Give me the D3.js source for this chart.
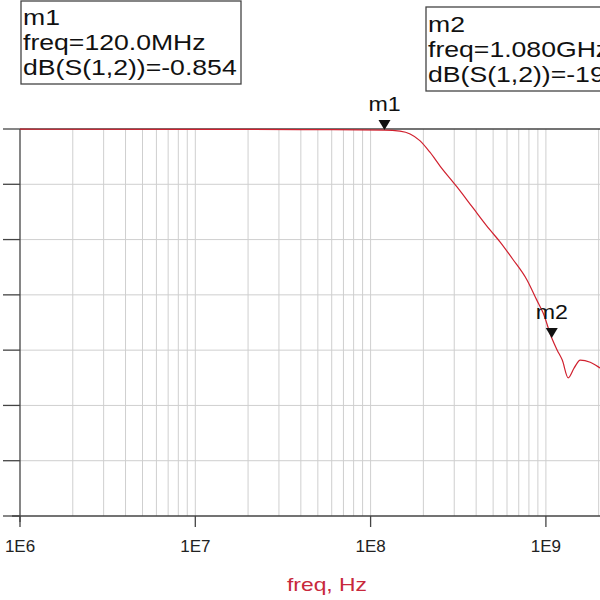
<!DOCTYPE html>
<html>
<head>
<meta charset="utf-8">
<script src="https://cdn.jsdelivr.net/npm/d3@7"></script>
<style>
  body { margin: 0; background: #fff; }
  svg { display: block; font-family: "Liberation Sans", Arial, sans-serif; }
</style>
</head>
<body>
<div id="chart"></div>
<script>
// Data: dB(S(1,2)) against frequency
const freqs = [1e6, 1.06e7, 4e7, 1.2e8, 1.47e8, 1.68e8, 1.91e8, 2.18e8, 2.49e8, 3.11e8,
               3.84e8, 4.8e8, 5.47e8, 6.49e8, 7.8e8, 8.89e8, 9.62e8, 1.08e9, 1.16e9,
               1.24e9, 1.34e9, 1.45e9, 1.57e9, 1.79e9, 2.03e9, 2.3e9];
const dbValues = [-0.02, -0.03, -0.05, -0.1, -0.2, -0.45, -1.05, -2.1, -3.35, -5.24,
                  -7.14, -9.13, -10.2, -11.8, -13.65, -15.5, -16.6, -18.9, -20.0,
                  -20.9, -22.5, -21.6, -20.9, -21.1, -21.6, -22.2];

const xTickValues = [1e6, 1e7, 1e8, 1e9];
const xTickLabels = ['1E6', '1E7', '1E8', '1E9'];
const yTickValues = [0, -5, -10, -15, -20, -25, -30, -35];

const markerNames = ['m1', 'm2'];
const markerFreqs = [1.2e8, 1.08e9];
const markerDb = [-0.1, -18.9];
const markerLines = [
    ['m1', 'freq=120.0MHz', 'dB(S(1,2))=-0.854'],
    ['m2', 'freq=1.080GHz', 'dB(S(1,2))=-19.1']
];

const W = 600, H = 600;
const plot = { left: 20, top: 129, bottom: 516 };
const decadePx = 175.3;
const boxStretch = 1.21;   // readout text is wider than the font
const labelStretch = 1.16;

const svg = d3.select('#chart').append('svg')
    .attr('width', W).attr('height', H);

const x = d3.scaleLog()
    .domain([1e6, 1e10])
    .range([plot.left, plot.left + 4 * decadePx]);

const y = d3.scaleLinear()
    .domain([-35, 0])
    .range([plot.bottom, plot.top]);

// grid - vertical (1..9 per decade)
const gridX = [];
for (let d = 6; d < 10; d++) {
    for (let k = 1; k <= 9; k++) gridX.push(k * Math.pow(10, d));
}
svg.append('g').selectAll('line')
    .data(gridX.filter(v => v > 1e6))
    .enter().append('line')
    .attr('x1', d => x(d)).attr('x2', d => x(d))
    .attr('y1', plot.top).attr('y2', plot.bottom)
    .attr('stroke', '#cfcfcf').attr('stroke-width', 1);

// grid - horizontal
svg.append('g').selectAll('line')
    .data(yTickValues.filter(v => v !== 0 && v !== -35))
    .enter().append('line')
    .attr('x1', plot.left).attr('x2', W)
    .attr('y1', d => y(d)).attr('y2', d => y(d))
    .attr('stroke', '#cfcfcf').attr('stroke-width', 1);

// frame lines
const frame = svg.append('g').attr('stroke', '#444').attr('stroke-width', 1.3);
frame.append('line').attr('x1', plot.left).attr('x2', plot.left)
    .attr('y1', plot.top).attr('y2', plot.bottom + 6);
frame.append('line').attr('x1', plot.left).attr('x2', W)
    .attr('y1', plot.top).attr('y2', plot.top);
frame.append('line').attr('x1', plot.left - 8).attr('x2', W)
    .attr('y1', plot.bottom).attr('y2', plot.bottom);

// y ticks (labels fall outside the visible area)
frame.selectAll('.ytick')
    .data(yTickValues)
    .enter().append('line')
    .attr('class', 'ytick')
    .attr('x1', 3).attr('x2', plot.left)
    .attr('y1', d => y(d)).attr('y2', d => y(d));

// x ticks
frame.selectAll('.xtick')
    .data(xTickValues)
    .enter().append('line')
    .attr('class', 'xtick')
    .attr('x1', d => x(d)).attr('x2', d => x(d))
    .attr('y1', plot.bottom).attr('y2', plot.bottom + 11);

svg.append('g').selectAll('text')
    .data(xTickValues)
    .enter().append('text')
    .attr('x', d => x(d))
    .attr('y', 552)
    .attr('text-anchor', 'middle')
    .attr('font-size', 17)
    .attr('fill', '#222')
    .text((d, i) => xTickLabels[i]);

svg.append('text')
    .attr('x', 287).attr('y', 591)
    .attr('font-size', 19)
    .attr('fill', '#c8283c')
    .attr('textLength', 80)
    .attr('lengthAdjust', 'spacingAndGlyphs')
    .text('freq, Hz');

// curve
const line = d3.line()
    .x(d => x(d[0]))
    .y(d => y(d[1]))
    .curve(d3.curveMonotoneX);

svg.append('path')
    .datum(freqs.map((f, i) => [f, dbValues[i]]))
    .attr('d', line)
    .attr('fill', 'none')
    .attr('stroke', '#d0202e')
    .attr('stroke-width', 1.2);

// markers
markerNames.forEach((name, i) => {
    const mx = x(markerFreqs[i]);
    const my = y(markerDb[i]);
    svg.append('path')
        .attr('d', `M${mx},${my} L${mx - 6},${my - 10} L${mx + 6},${my - 10} Z`)
        .attr('fill', '#111');
    svg.append('text')
        .attr('transform', `translate(${mx},${my - 19}) scale(${labelStretch},1)`)
        .attr('text-anchor', 'middle')
        .attr('font-size', 20)
        .attr('fill', '#111')
        .text(name);
});

// marker readout boxes (the second one runs past the right edge, as in the original)
const boxes = [
    { x: 21, y: 1, w: 220, h: 83, base: 25 },
    { x: 426, y: 7, w: 200, h: 84, base: 32 }
];
boxes.forEach((b, i) => {
    const g = svg.append('g');
    g.append('rect')
        .attr('x', b.x).attr('y', b.y)
        .attr('width', b.w).attr('height', b.h)
        .attr('fill', '#fff')
        .attr('stroke', '#444').attr('stroke-width', 1.3);
    g.selectAll('text')
        .data(markerLines[i])
        .enter().append('text')
        .attr('transform', (d, j) => `translate(${b.x + 2},${b.base + j * 25}) scale(${boxStretch},1)`)
        .attr('font-size', 22)
        .attr('fill', '#111')
        .text(d => d);
});
</script>
</body>
</html>
